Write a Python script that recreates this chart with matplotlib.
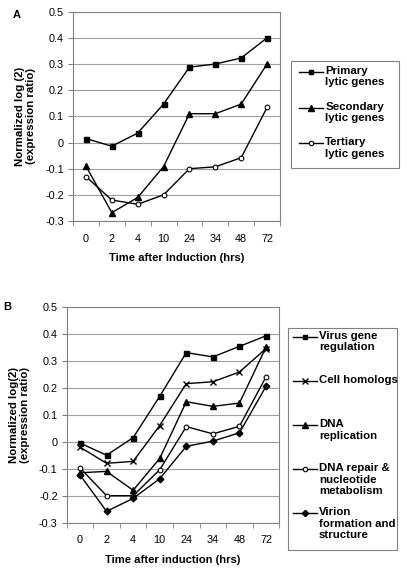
import matplotlib
matplotlib.use("Agg")
import matplotlib.pyplot as plt
from matplotlib.lines import Line2D
from matplotlib.patches import Rectangle
import numpy as np

plt.rcParams['font.family'] = ['Liberation Sans', 'DejaVu Sans']

time_labels = ['0', '2', '4', '10', '24', '34', '48', '72']

primary = [0.015, -0.014, 0.036, 0.147, 0.288, 0.300, 0.323, 0.400]
secondary = [-0.090, -0.268, -0.210, -0.092, 0.110, 0.110, 0.147, 0.300]
tertiary = [-0.130, -0.220, -0.236, -0.200, -0.100, -0.093, -0.058, 0.134]

virus_reg = [-0.005, -0.050, 0.015, 0.168, 0.330, 0.314, 0.353, 0.392]
cell_hom = [-0.020, -0.080, -0.073, 0.060, 0.215, 0.222, 0.258, 0.345]
dna_rep = [-0.115, -0.110, -0.180, -0.062, 0.148, 0.131, 0.143, 0.350]
dna_repair = [-0.097, -0.200, -0.200, -0.104, 0.056, 0.029, 0.057, 0.240]
virion = [-0.123, -0.258, -0.210, -0.137, -0.017, 0.002, 0.033, 0.205]

W, H = 407, 571
fig = plt.figure(figsize=(W / 100, H / 100), dpi=100)

GRID = '#a0a0a0'
SPINE = '#808080'


def fx(px):
    return px / W


def fy(py):
    return 1 - py / H


def make_axes(l, t, r, b, ylab_px):
    ax = fig.add_axes([fx(l), fy(b), fx(r - l), (b - t) / H])
    x = np.arange(len(time_labels))
    ax.set_xlim(-0.5, len(time_labels) - 0.5)
    ax.set_ylim(-0.3, 0.5)
    ax.set_yticks(np.round(np.arange(-0.3, 0.51, 0.1), 1))
    ax.set_yticklabels(['-0.3', '-0.2', '-0.1', '0', '0.1', '0.2', '0.3', '0.4', '0.5'])
    ax.set_xticks(x)
    ax.set_xticklabels(time_labels)
    ax.set_xticks(np.arange(-0.5, len(time_labels), 1.0), minor=True)
    ax.tick_params(axis='x', which='major', length=0, pad=9, labelsize=7.8)
    ax.tick_params(axis='x', which='minor', length=3.5, direction='out', color=SPINE)
    ax.tick_params(axis='y', length=3.5, direction='out', color=SPINE, pad=3, labelsize=7.8)
    ax.yaxis.grid(True, color=GRID, linewidth=0.8)
    ax.set_axisbelow(True)
    for s in ax.spines.values():
        s.set_color(SPINE)
        s.set_linewidth(0.8)
    ax.yaxis.set_label_coords((ylab_px - l) / (r - l), 0.5)
    return ax, x


# Panel A
axA, x = make_axes(73, 11.7, 280, 221, 36)
axA.plot(x, primary, color='black', lw=1.0, marker='s', ms=3.6, mfc='black', mec='black')
axA.plot(x, secondary, color='black', lw=1.0, marker='^', ms=4.6, mfc='black', mec='black')
axA.plot(x, tertiary, color='black', lw=1.0, marker='o', ms=3.4, mfc='white', mec='black', mew=0.8)
axA.set_ylabel('Normalized log (2)\n(expression ratio)', fontsize=8.2, fontweight='bold',
               linespacing=1.1)
axA.set_xlabel('Time after Induction (hrs)', fontsize=8.1, fontweight='bold', labelpad=7)

# Panel B
axB, x = make_axes(66.7, 306.7, 279.3, 522.7, 30)
axB.plot(x, virus_reg, color='black', lw=1.0, marker='s', ms=3.6, mfc='black', mec='black')
axB.plot(x, cell_hom, color='black', lw=1.0, marker='x', ms=4.6, mec='black', mew=1.0)
axB.plot(x, dna_rep, color='black', lw=1.0, marker='^', ms=4.6, mfc='black', mec='black')
axB.plot(x, dna_repair, color='black', lw=1.0, marker='o', ms=3.4, mfc='white', mec='black', mew=0.8)
axB.plot(x, virion, color='black', lw=1.0, marker='D', ms=3.4, mfc='black', mec='black')
axB.set_ylabel('Normalized log(2)\n(expression ratio)', fontsize=8.2, fontweight='bold',
               linespacing=1.1)
axB.set_xlabel('Time after induction (hrs)', fontsize=8.1, fontweight='bold', labelpad=7)

# Panel letters
fig.text(fx(17), fy(15.5), 'A', fontsize=8, fontweight='bold', ha='center', va='center')
fig.text(fx(7), fy(307.5), 'B', fontsize=8, fontweight='bold', ha='center', va='center')


def draw_legend(box, entries, hx0, hx1, tx, ys, lsp):
    l, t, r, b = box
    fig.patches.append(Rectangle((fx(l), fy(b)), fx(r - l), (b - t) / H, transform=fig.transFigure,
                                 facecolor='white', edgecolor=SPINE, linewidth=0.8))
    for (label, style), y in zip(entries, ys):
        fig.lines.append(Line2D([fx(hx0), fx(hx1)], [fy(y), fy(y)], transform=fig.transFigure,
                                color='black', lw=1.0))
        fig.lines.append(Line2D([fx((hx0 + hx1) / 2)], [fy(y)], transform=fig.transFigure,
                                color='black', **style))
        fig.text(fx(tx), fy(y - 6), label, fontsize=8.2, fontweight='bold', ha='left', va='top',
                 linespacing=1.2)


sq = dict(marker='s', ms=3.2, mfc='black', mec='black')
tri = dict(marker='^', ms=4.2, mfc='black', mec='black')
circ = dict(marker='o', ms=3.2, mfc='white', mec='black', mew=0.8)
xm = dict(marker='x', ms=4.2, mec='black', mew=1.0)
dia = dict(marker='D', ms=3.2, mfc='black', mec='black')

draw_legend((290.7, 61, 398.7, 168),
            [('Primary\nlytic genes', sq), ('Secondary\nlytic genes', tri), ('Tertiary\nlytic genes', circ)],
            298.7, 322.7, 325.3, [71.7, 107.7, 143.3], 1.2)

draw_legend((288, 328, 397, 550),
            [('Virus gene\nregulation', sq), ('Cell homologs', xm), ('DNA\nreplication', tri),
             ('DNA repair &\nnucleotide\nmetabolism', circ), ('Virion\nformation and\nstructure', dia)],
            292.7, 316.7, 319, [336.7, 380.7, 425.3, 469, 513.3], 1.2)

fig.savefig('out.png', dpi=100)
